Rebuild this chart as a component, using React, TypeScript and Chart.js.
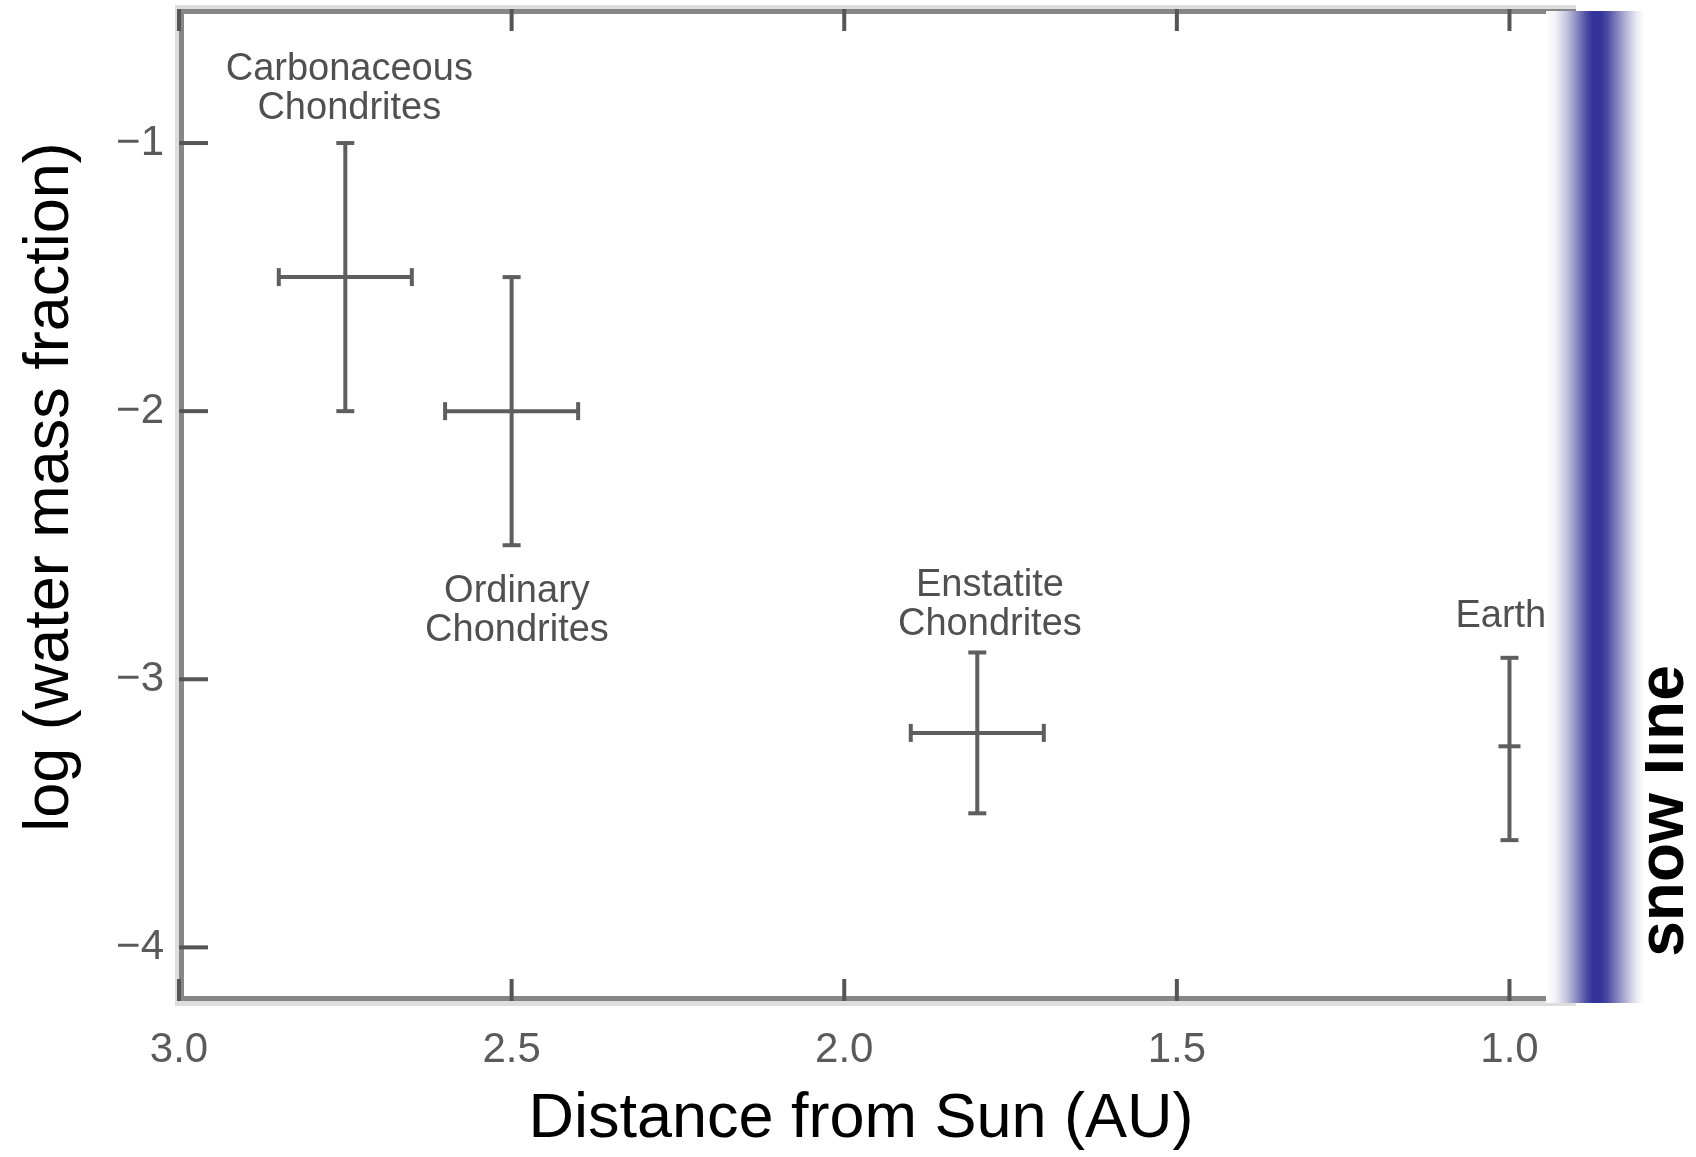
import React, { useEffect, useRef } from 'react';
import { Chart, registerables } from 'chart.js';

Chart.register(...registerables);

// ---- data ----
const groups = ['Carbonaceous Chondrites', 'Ordinary Chondrites', 'Enstatite Chondrites', 'Earth'];
const labelLines = [['Carbonaceous', 'Chondrites'], ['Ordinary', 'Chondrites'], ['Enstatite', 'Chondrites'], ['Earth']];
const distanceAU = [2.75, 2.5, 1.8, 1.0];
const distanceErr = [0.1, 0.1, 0.1, 0];
const logWater = [-1.5, -2.0, -3.2, -3.25];
const logWaterLow = [-2.0, -2.5, -3.5, -3.6];
const logWaterHigh = [-1.0, -1.5, -2.9, -2.92];
const labelAnchorX = [2.744, 2.492, 1.781, 1.013];
const labelAnchorY = [-0.726, -2.673, -2.651, -2.766];
const xTicks = [3.0, 2.5, 2.0, 1.5, 1.0];
const yTicks = [-1, -2, -3, -4];
const xRange = [0.9, 3.0];
const yRange = [-4.2, -0.5];
const xTitle = 'Distance from Sun (AU)';
const yTitle = 'log (water mass fraction)';
const bandLabel = 'snow line';

const FONT = '"Liberation Sans", Arial, Helvetica, sans-serif';

const overlayPlugin = {
  id: 'overlay',
  beforeDraw(chart: any) {
    const { ctx, width, height } = chart;
    ctx.save();
    ctx.fillStyle = '#ffffff';
    ctx.fillRect(0, 0, width, height);
    ctx.restore();
  },
  afterDatasetsDraw(chart: any) {
    const { ctx, scales } = chart;
    const x = scales.x;
    const y = scales.y;
    ctx.save();
    ctx.strokeStyle = '#5e5e5e';
    ctx.lineWidth = 4;
    ctx.lineCap = 'butt';
    const line = (x1: number, y1: number, x2: number, y2: number) => {
      ctx.beginPath();
      ctx.moveTo(x1, y1);
      ctx.lineTo(x2, y2);
      ctx.stroke();
    };
    for (let i = 0; i < groups.length; i++) {
      const cx = x.getPixelForValue(distanceAU[i]);
      const cy = y.getPixelForValue(logWater[i]);
      const yt = y.getPixelForValue(logWaterHigh[i]);
      const yb = y.getPixelForValue(logWaterLow[i]);
      line(cx, yt, cx, yb);
      line(cx - 9, yt, cx + 9, yt);
      line(cx - 9, yb, cx + 9, yb);
      if (distanceErr[i] > 0) {
        const xl = x.getPixelForValue(distanceAU[i] + distanceErr[i]);
        const xr = x.getPixelForValue(distanceAU[i] - distanceErr[i]);
        line(xl, cy, xr, cy);
        line(xl, cy - 9, xl, cy + 9);
        line(xr, cy - 9, xr, cy + 9);
      } else {
        line(cx - 11, cy, cx + 11, cy);
      }
    }
    // annotation labels
    ctx.fillStyle = '#505050';
    ctx.font = `38px ${FONT}`;
    ctx.textAlign = 'center';
    ctx.textBaseline = 'middle';
    for (let i = 0; i < groups.length; i++) {
      const lx = x.getPixelForValue(labelAnchorX[i]);
      const ly = y.getPixelForValue(labelAnchorY[i]);
      labelLines[i].forEach((t, k) => ctx.fillText(t, lx, ly + k * 38.5));
    }
    ctx.restore();
  },
  afterDraw(chart: any) {
    const { ctx, chartArea: a, scales } = chart;
    const x = scales.x;
    const y = scales.y;
    ctx.save();
    // frame halo
    ctx.fillStyle = '#dedede';
    ctx.fillRect(a.left - 4, a.top - 4, a.right - a.left + 4, 4);
    ctx.fillRect(a.left - 4, a.top - 4, 4, a.bottom - a.top + 9);
    ctx.fillRect(a.left - 4, a.bottom, a.right - a.left + 4, 5);
    // frame
    ctx.fillStyle = '#868686';
    ctx.fillRect(a.left, a.top, a.right - a.left, 5);
    ctx.fillRect(a.left, a.top, 5, a.bottom - a.top);
    ctx.fillRect(a.left, a.bottom - 5, a.right - a.left, 5);
    ctx.fillRect(a.right - 5, a.top, 5, a.bottom - a.top);
    // inward ticks
    ctx.fillStyle = '#555555';
    xTicks.forEach((v) => {
      const px = x.getPixelForValue(v);
      ctx.fillRect(px - 2, a.bottom - 22, 4, 22);
      ctx.fillRect(px - 2, a.top, 4, 22);
    });
    yTicks.forEach((v) => {
      const py = y.getPixelForValue(v);
      ctx.fillRect(a.left, py - 2, 29, 4);
      ctx.fillRect(a.right - 29, py - 2, 29, 4);
    });
    // axis titles
    ctx.fillStyle = '#000000';
    ctx.font = `63px ${FONT}`;
    ctx.textAlign = 'center';
    ctx.textBaseline = 'middle';
    ctx.fillText(xTitle, 861, 1120);
    ctx.save();
    ctx.translate(51, 487);
    ctx.rotate(-Math.PI / 2);
    ctx.fillText(yTitle, 0, 0);
    ctx.restore();
    // snow line text
    ctx.save();
    ctx.font = `bold 64px ${FONT}`;
    ctx.textBaseline = 'alphabetic';
    ctx.translate(1683, 811);
    ctx.rotate(-Math.PI / 2);
    ctx.fillText(bandLabel, 0, 0);
    ctx.restore();
    // snow line band
    const bx0 = 1546;
    const bx1 = 1645;
    const g = ctx.createLinearGradient(bx0, 0, bx1, 0);
    g.addColorStop(0, '#ffffff');
    g.addColorStop(0.1, '#f0f0f7');
    g.addColorStop(0.2, '#c8c8e0');
    g.addColorStop(0.3, '#9090c4');
    g.addColorStop(0.4, '#5252a8');
    g.addColorStop(0.47, '#333399');
    g.addColorStop(0.55, '#333399');
    g.addColorStop(0.62, '#4a4aa2');
    g.addColorStop(0.72, '#8484bd');
    g.addColorStop(0.82, '#bcbcda');
    g.addColorStop(0.92, '#ececf4');
    g.addColorStop(1, '#ffffff');
    ctx.fillStyle = g;
    ctx.fillRect(bx0, 11, bx1 - bx0, 992);
    ctx.restore();
  },
};

export default function App() {
  const ref = useRef<HTMLCanvasElement | null>(null);
  useEffect(() => {
    if (!ref.current) return;
    const chart = new Chart(ref.current, {
      type: 'scatter',
      data: {
        datasets: [
          {
            label: 'log water mass fraction',
            data: distanceAU.map((d, i) => ({ x: d, y: logWater[i] })),
            pointRadius: 0,
            pointHoverRadius: 0,
            showLine: false,
          },
        ],
      },
      options: {
        animation: false,
        responsive: false,
        devicePixelRatio: 1,
        layout: { padding: { left: 0, top: 9, right: 120, bottom: 0 } },
        plugins: { legend: { display: false }, tooltip: { enabled: false } },
        scales: {
          x: {
            type: 'linear',
            min: xRange[0],
            max: xRange[1],
            reverse: true,
            grid: { display: false, drawTicks: false },
            border: { display: false },
            ticks: {
              font: { family: FONT, size: 42 },
              color: '#5a5a5a',
              padding: 24,
              maxRotation: 0,
              autoSkip: false,
              callback: (v: any) => Number(v).toFixed(1),
            },
            afterBuildTicks: (s: any) => {
              s.ticks = xTicks.map((v) => ({ value: v }));
            },
            afterFit: (s: any) => {
              s.height = 156;
              s.paddingLeft = 0;
              s.paddingRight = 0;
            },
          },
          y: {
            type: 'linear',
            min: yRange[0],
            max: yRange[1],
            grid: { display: false, drawTicks: false },
            border: { display: false },
            ticks: {
              font: { family: FONT, size: 42 },
              color: '#5a5a5a',
              padding: 15,
              autoSkip: false,
              callback: (v: any) => '\u2212' + Math.abs(Number(v)),
            },
            afterBuildTicks: (s: any) => {
              s.ticks = yTicks.map((v) => ({ value: v }));
            },
            afterFit: (s: any) => {
              s.width = 179;
              s.paddingTop = 0;
              s.paddingBottom = 0;
            },
          },
        },
      },
      plugins: [overlayPlugin],
    } as any);
    return () => chart.destroy();
  }, []);
  return (
    <div style={{ position: 'absolute', left: 0, top: 0, width: 1696, height: 1157, background: '#ffffff' }}>
      <canvas ref={ref} width={1696} height={1157} style={{ display: 'block' }} />
    </div>
  );
}
